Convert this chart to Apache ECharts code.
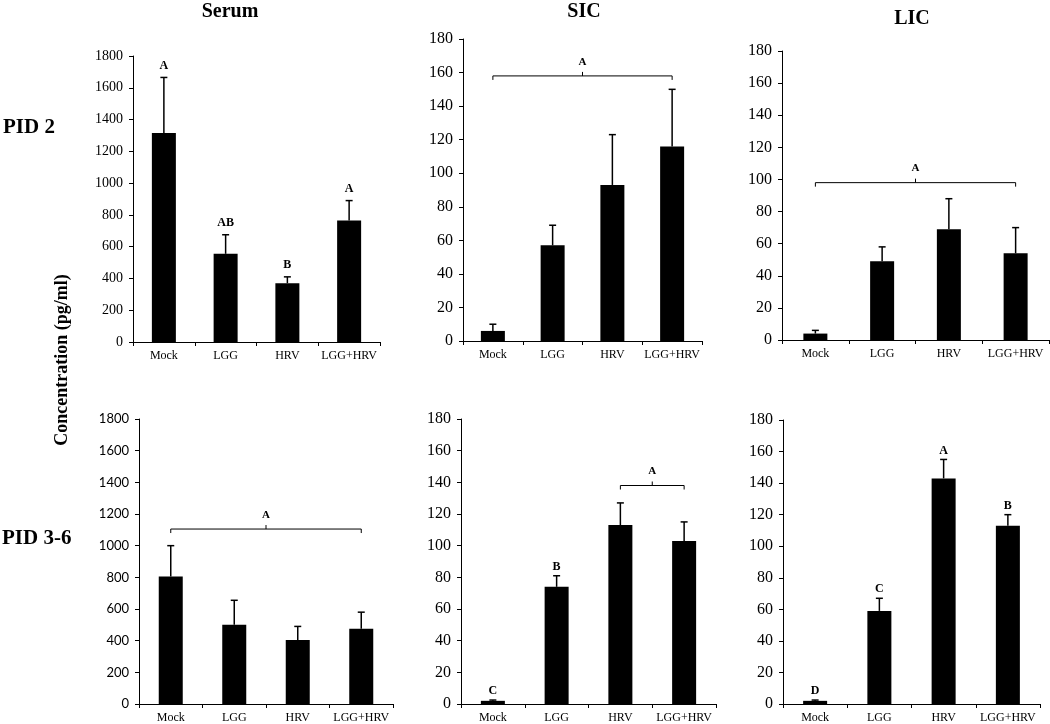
<!DOCTYPE html>
<html>
<head>
<meta charset="utf-8">
<script src="https://cdn.jsdelivr.net/npm/echarts@6/dist/echarts.min.js"></script>
<style>
html,body{margin:0;padding:0;background:#fff;}
#chart{width:1050px;height:724px;}
</style>
</head>
<body>
<div id="chart"></div>
<script>
// ---- data ----
const categories = ['Mock', 'LGG', 'HRV', 'LGG+HRV'];
const columnTitles = ['Serum', 'SIC', 'LIC'];
const rowTitles = ['PID 2', 'PID 3-6'];
const yAxisTitle = 'Concentration (pg/ml)';

const serumPid2 = [1315, 555, 370, 765];
const serumPid2Upper = [1665, 675, 410, 890];
const serumPid2Letters = ['A', 'AB', 'B', 'A'];
const serumPid2Brackets = [];

const sicPid2 = [6, 57, 93, 116];
const sicPid2Upper = [10, 69, 123, 150];
const sicPid2Letters = ['', '', '', ''];
const sicPid2Brackets = [[0, 3, 158, 'A']];

const licPid2 = [4, 49, 69, 54];
const licPid2Upper = [6, 58, 88, 70];
const licPid2Letters = ['', '', '', ''];
const licPid2Brackets = [[0, 3, 98, 'A']];

const serumPid36 = [805, 500, 405, 475];
const serumPid36Upper = [1000, 655, 490, 580];
const serumPid36Letters = ['', '', '', ''];
const serumPid36Brackets = [[0, 3, 1105, 'A']];

const sicPid36 = [2, 74, 113, 103];
const sicPid36Upper = [2.5, 81, 127, 115];
const sicPid36Letters = ['C', 'B', '', ''];
const sicPid36Brackets = [[2, 3, 138, 'A']];

const licPid36 = [2, 59, 143, 113];
const licPid36Upper = [2.5, 67, 155, 120];
const licPid36Letters = ['D', 'C', 'A', 'B'];
const licPid36Brackets = [];

const serumTicks = {max: 1800, interval: 200};
const intestineTicks = {max: 180, interval: 20};

// ---- layout / style ----
const SERIF = '"Liberation Serif", "Times New Roman", serif';
const SANS = 'Lato, "Liberation Sans", sans-serif';

const panels = [
  {grid: {left: 133, top: 56, width: 247, height: 286}, ticks: serumTicks, vals: serumPid2, up: serumPid2Upper, letters: serumPid2Letters, brackets: serumPid2Brackets, font: SERIF, fontSize: 14, letterGap: 12},
  {grid: {left: 463, top: 39, width: 239, height: 302}, ticks: intestineTicks, vals: sicPid2, up: sicPid2Upper, letters: sicPid2Letters, brackets: sicPid2Brackets, font: SERIF, fontSize: 16, letterGap: 10},
  {grid: {left: 782, top: 51, width: 267, height: 289}, ticks: intestineTicks, vals: licPid2, up: licPid2Upper, letters: licPid2Letters, brackets: licPid2Brackets, font: SERIF, fontSize: 16, letterGap: 10},
  {grid: {left: 139, top: 419, width: 254, height: 285}, ticks: serumTicks, vals: serumPid36, up: serumPid36Upper, letters: serumPid36Letters, brackets: serumPid36Brackets, font: SANS, fontSize: 13, letterGap: 10},
  {grid: {left: 461, top: 419, width: 255, height: 285}, ticks: intestineTicks, vals: sicPid36, up: sicPid36Upper, letters: sicPid36Letters, brackets: sicPid36Brackets, font: SERIF, fontSize: 16, letterGap: 9},
  {grid: {left: 783, top: 420, width: 257, height: 285}, ticks: intestineTicks, vals: licPid36, up: licPid36Upper, letters: licPid36Letters, brackets: licPid36Brackets, font: SERIF, fontSize: 16, letterGap: 9}
];

const grids = [], xAxes = [], yAxes = [], series = [];
panels.forEach((p, i) => {
  grids.push(Object.assign({containLabel: false}, p.grid));
  xAxes.push({
    type: 'category', gridIndex: i, data: categories,
    axisLine: {lineStyle: {color: '#000', width: 1}},
    axisTick: {show: true, length: 4, lineStyle: {color: '#000'}},
    axisLabel: {color: '#000', fontFamily: SERIF, fontSize: 12, margin: 8, interval: 0}
  });
  yAxes.push({
    type: 'value', gridIndex: i, min: 0, max: p.ticks.max, interval: p.ticks.interval,
    splitLine: {show: false},
    axisLine: {show: true, lineStyle: {color: '#000', width: 1}},
    axisTick: {show: true, length: 4, lineStyle: {color: '#000'}},
    axisLabel: {color: '#000', fontFamily: p.font, fontSize: p.fontSize, margin: 10, formatter: v => String(v)}
  });
  series.push({
    type: 'bar', xAxisIndex: i, yAxisIndex: i, data: p.vals, barWidth: 24,
    itemStyle: {color: '#000'}, silent: true, animation: false
  });
  const letters = p.letters;
  const gap = p.letterGap;
  series.push({
    type: 'custom', xAxisIndex: i, yAxisIndex: i, animation: false, silent: true, z: 5,
    data: p.vals.map((v, k) => [k, v, p.up[k]]),
    encode: {x: 0, y: [1, 2]},
    renderItem: (params, api) => {
      const x = api.value(0);
      const b = api.coord([x, api.value(1)]);
      const t = api.coord([x, api.value(2)]);
      const children = [
        {type: 'line', shape: {x1: b[0], y1: b[1], x2: t[0], y2: t[1]}, style: {stroke: '#000', lineWidth: 1.5}},
        {type: 'line', shape: {x1: t[0] - 3.5, y1: t[1], x2: t[0] + 3.5, y2: t[1]}, style: {stroke: '#000', lineWidth: 1.5}}
      ];
      const L = letters[params.dataIndex];
      if (L) {
        children.push({type: 'text', style: {text: L, x: t[0], y: t[1] - gap, align: 'center', verticalAlign: 'middle', font: 'bold 12px ' + SERIF, fill: '#000'}});
      }
      return {type: 'group', children};
    }
  });
  if (p.brackets.length) {
    const labels = p.brackets.map(b => b[3]);
    series.push({
      type: 'custom', xAxisIndex: i, yAxisIndex: i, animation: false, silent: true, z: 5,
      data: p.brackets.map(b => [b[0], b[1], b[2]]),
      encode: {x: [0, 1], y: 2},
      renderItem: (params, api) => {
        const a = api.coord([api.value(0), api.value(2)]);
        const c = api.coord([api.value(1), api.value(2)]);
        const mx = (a[0] + c[0]) / 2;
        return {type: 'group', children: [
          {type: 'polyline', shape: {points: [[a[0], a[1] + 4], [a[0], a[1]], [c[0], c[1]], [c[0], c[1] + 4]]}, style: {stroke: '#000', lineWidth: 1, fill: null}},
          {type: 'line', shape: {x1: mx, y1: a[1], x2: mx, y2: a[1] - 4}, style: {stroke: '#000', lineWidth: 1}},
          {type: 'text', style: {text: labels[params.dataIndex], x: mx, y: a[1] - 14, align: 'center', verticalAlign: 'middle', font: 'bold 11px ' + SERIF, fill: '#000'}}
        ]};
      }
    });
  }
});

const graphics = [
  {type: 'text', x: 230, y: 12, style: {text: columnTitles[0], align: 'center', verticalAlign: 'middle', font: 'bold 20px ' + SERIF, fill: '#000'}},
  {type: 'text', x: 584, y: 12, style: {text: columnTitles[1], align: 'center', verticalAlign: 'middle', font: 'bold 20px ' + SERIF, fill: '#000'}},
  {type: 'text', x: 912, y: 19, style: {text: columnTitles[2], align: 'center', verticalAlign: 'middle', font: 'bold 20px ' + SERIF, fill: '#000'}},
  {type: 'text', x: 3, y: 128, style: {text: rowTitles[0], align: 'left', verticalAlign: 'middle', font: 'bold 21px ' + SERIF, fill: '#000'}},
  {type: 'text', x: 2, y: 539, style: {text: rowTitles[1], align: 'left', verticalAlign: 'middle', font: 'bold 21px ' + SERIF, fill: '#000'}},
  {type: 'text', x: 62, y: 360, rotation: Math.PI / 2, style: {text: yAxisTitle, align: 'center', verticalAlign: 'middle', font: 'bold 18px ' + SERIF, fill: '#000'}}
];

const chart = echarts.init(document.getElementById('chart'), null, {renderer: 'canvas'});
chart.setOption({
  backgroundColor: '#fff',
  animation: false,
  grid: grids,
  xAxis: xAxes,
  yAxis: yAxes,
  series: series,
  graphic: graphics
});
</script>
</body>
</html>
